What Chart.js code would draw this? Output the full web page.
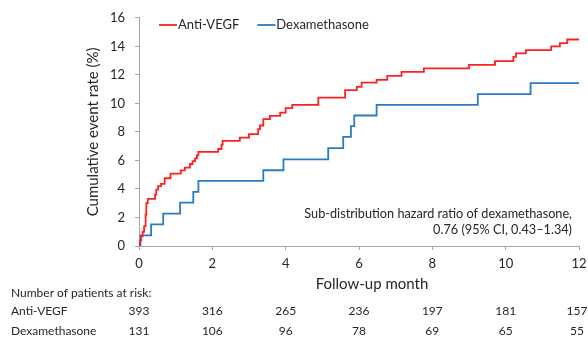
<!DOCTYPE html>
<html>
<head>
<meta charset="utf-8">
<title>Cumulative event rate</title>
<script src="https://cdn.jsdelivr.net/npm/chart.js@4.4.1/dist/chart.umd.min.js"></script>
<style>
  html, body { margin: 0; padding: 0; background: #fff; }
</style>
</head>
<body>
<canvas id="chart" width="588" height="339"></canvas>
<script>
// Step curves: month of each step and the rate (%) after it
const antiVegfMonths = [0, 0.02, 0.06, 0.10, 0.14, 0.18, 0.20, 0.24, 0.44, 0.47, 0.52, 0.60, 0.70, 0.86, 1.14, 1.25, 1.39, 1.46, 1.53, 1.58, 1.62, 2.16, 2.25, 2.28, 2.75, 3.00, 3.25, 3.30, 3.39, 3.57, 3.85, 4.00, 4.18, 4.89, 5.62, 5.94, 6.07, 6.48, 6.77, 7.16, 7.77, 9.00, 9.71, 10.21, 10.28, 10.55, 11.24, 11.48, 11.68, 12];
const antiVegfRates  = [0, 0.4, 0.7, 1.0, 1.4, 2.2, 3.0, 3.3, 3.6, 3.95, 4.2, 4.35, 4.75, 5.07, 5.3, 5.5, 5.75, 5.95, 6.15, 6.35, 6.6, 6.8, 7.1, 7.37, 7.6, 7.84, 8.2, 8.45, 8.9, 9.12, 9.35, 9.66, 9.9, 10.4, 10.93, 11.16, 11.46, 11.65, 11.93, 12.21, 12.45, 12.7, 12.96, 13.26, 13.5, 13.73, 13.99, 14.22, 14.48, 14.48];

const dexMonths = [0, 0.04, 0.33, 0.66, 1.12, 1.48, 1.62, 3.39, 3.94, 5.16, 5.57, 5.78, 5.87, 6.48, 9.24, 10.68, 12];
const dexRates  = [0, 0.75, 1.52, 2.27, 3.04, 3.79, 4.56, 5.31, 6.08, 6.86, 7.65, 8.4, 9.15, 9.9, 10.65, 11.42, 11.42];

// Risk table
const riskMonths = [0, 2, 4, 6, 8, 10, 12];
const antiVegfAtRisk = [393, 316, 265, 236, 197, 181, 157];
const dexAtRisk = [131, 106, 96, 78, 69, 65, 55];

const FONT = 'Lato, "Open Sans", sans-serif';
const TEXT = '#262626';
const AXIS = '#a6a6a6';
const RED = '#ff2020';
const BLUE = '#2a7ac6';

const toPoints = (xs, ys) => xs.map((x, i) => ({ x: x, y: ys[i] }));

// Legend, annotation, x title and the at-risk table
const extras = {
  id: 'extras',
  afterDraw(chart) {
    const { ctx } = chart;
    const xScale = chart.scales.x;
    ctx.save();
    ctx.fillStyle = TEXT;
    ctx.textBaseline = 'middle';

    // legend inside the plot
    ctx.font = '13px ' + FONT;
    let lx = 159;
    chart.data.datasets.forEach(ds => {
      ctx.strokeStyle = ds.borderColor;
      ctx.lineWidth = 1.8;
      ctx.beginPath();
      ctx.moveTo(lx, 25);
      ctx.lineTo(lx + 18, 25);
      ctx.stroke();
      ctx.textAlign = 'left';
      ctx.fillText(ds.label, lx + 19, 25);
      lx += 19 + ctx.measureText(ds.label).width + 18;
    });

    // hazard ratio note
    ctx.font = '12.7px ' + FONT;
    ctx.textAlign = 'right';
    ctx.fillText('Sub-distribution hazard ratio of dexamethasone,', 572, 214);
    ctx.fillText('0.76 (95% CI, 0.43\u20131.34)', 572, 230);

    // x axis title
    ctx.font = '15px ' + FONT;
    ctx.textAlign = 'center';
    ctx.fillText('Follow-up month', 372, 284);

    // patients at risk
    ctx.font = '12px ' + FONT;
    ctx.textAlign = 'left';
    ctx.fillText('Number of patients at risk:', 11, 293);
    ctx.fillText('Anti-VEGF', 11, 311.5);
    ctx.fillText('Dexamethasone', 11, 331);
    ctx.textAlign = 'center';
    riskMonths.forEach((m, i) => {
      const px = Math.min(xScale.getPixelForValue(m), 577);
      ctx.fillText(String(antiVegfAtRisk[i]), px, 311.5);
      ctx.fillText(String(dexAtRisk[i]), px, 331);
    });
    ctx.restore();
  }
};

new Chart(document.getElementById('chart'), {
  type: 'line',
  data: {
    datasets: [
      {
        label: 'Anti-VEGF',
        data: toPoints(antiVegfMonths, antiVegfRates),
        borderColor: RED,
        borderWidth: 1.8,
        stepped: 'before',
        pointRadius: 0,
        fill: false,
      },
      {
        label: 'Dexamethasone',
        data: toPoints(dexMonths, dexRates),
        borderColor: BLUE,
        borderWidth: 1.8,
        stepped: 'before',
        pointRadius: 0,
        fill: false,
      },
    ],
  },
  options: {
    responsive: false,
    animation: false,
    layout: { padding: { left: 84, right: 9, top: 17, bottom: 0 } },
    plugins: { legend: { display: false }, tooltip: { enabled: false } },
    scales: {
      x: {
        type: 'linear',
        min: 0,
        max: 12,
        afterFit: s => { s.height = 93; s.paddingLeft = 0; s.paddingRight = 0; },
        grid: { drawOnChartArea: false, drawTicks: true, tickLength: 4, color: AXIS },
        border: { color: AXIS, width: 1 },
        ticks: { stepSize: 2, padding: 6, color: TEXT, font: { family: FONT, size: 13 }, maxRotation: 0 },
      },
      y: {
        min: 0,
        max: 16,
        afterFit: s => { s.width = 139 - 84; },
        grid: { drawOnChartArea: false, drawTicks: true, tickLength: 4, color: AXIS },
        border: { color: AXIS, width: 1 },
        ticks: { stepSize: 2, padding: 10, color: TEXT, font: { family: FONT, size: 13 } },
        title: {
          display: true,
          text: 'Cumulative event rate (%)',
          color: TEXT,
          padding: 0,
          font: { family: FONT, size: 15 },
        },
      },
    },
  },
  plugins: [extras],
});
</script>
</body>
</html>
